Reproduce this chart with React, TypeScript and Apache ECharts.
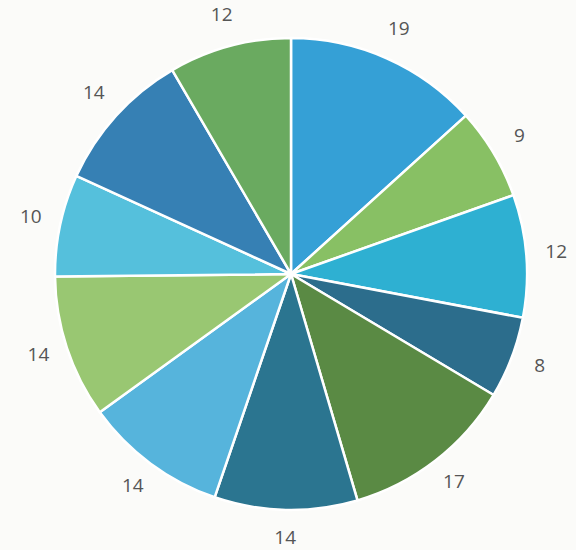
import React, { useEffect, useRef } from "react";
import * as echarts from "echarts";

const sliceNames = ["A", "B", "C", "D", "E", "F", "G", "H", "I", "J", "K"];
const sliceValues = [19, 9, 12, 8, 17, 14, 14, 14, 10, 14, 12];
const sliceColors = [
  "#35a0d6",
  "#88c064",
  "#2eb0d2",
  "#2c6d8c",
  "#5a8a44",
  "#2b7590",
  "#56b4dc",
  "#99c772",
  "#55c0dc",
  "#3680b4",
  "#6aaa60",
];

export default function App() {
  const ref = useRef<HTMLDivElement>(null);
  useEffect(() => {
    document.body.style.margin = "0";
    if (!ref.current) return;
    const chart = echarts.init(ref.current, undefined, { renderer: "svg" });
    const data = sliceNames.map((n, i) => ({
      name: n,
      value: sliceValues[i],
      itemStyle: { color: sliceColors[i] },
    }));
    chart.setOption({
      animation: false,
      backgroundColor: "#fbfbf9",
      series: [
        {
          type: "pie",
          center: [291, 274],
          radius: [0, 236],
          startAngle: 90,
          clockwise: true,
          avoidLabelOverlap: false,
          itemStyle: { borderColor: "#ffffff", borderWidth: 2.5 },
          label: { show: false },
          labelLine: { show: false },
          emphasis: { disabled: true },
          data,
        },
        {
          type: "pie",
          center: [291, 271],
          radius: [246, 280],
          startAngle: 90,
          clockwise: true,
          silent: true,
          avoidLabelOverlap: false,
          itemStyle: { color: "rgba(0,0,0,0)", borderWidth: 0 },
          label: {
            show: true,
            position: "inside",
            formatter: (p: any) => String(p.value),
            color: "#555555",
            fontFamily: "Open Sans",
            fontSize: 19,
            lineHeight: 19,
          },
          labelLine: { show: false },
          emphasis: { disabled: true },
          data: sliceNames.map((n, i) => ({ name: n, value: sliceValues[i] })),
        },
      ],
    });
    return () => chart.dispose();
  }, []);
  return <div ref={ref} style={{ width: 576, height: 550 }} />;
}
